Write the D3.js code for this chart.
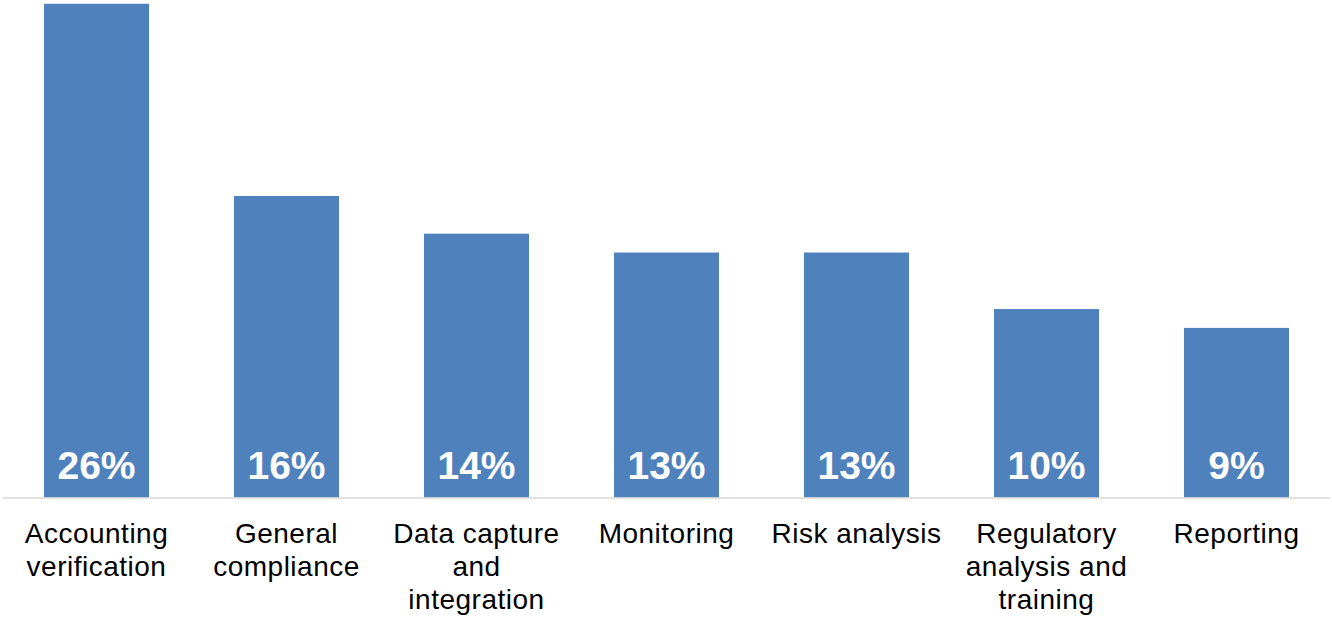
<!DOCTYPE html>
<html><head><meta charset="utf-8">
<script src="https://cdn.jsdelivr.net/npm/d3@7"></script>
<style>html,body{margin:0;padding:0;background:#fff;} svg{display:block;}</style>
</head><body>
<svg id="chart" width="1332" height="623"></svg>
<script>
const categories = [
  ["Accounting","verification"],
  ["General","compliance"],
  ["Data capture","and","integration"],
  ["Monitoring"],
  ["Risk analysis"],
  ["Regulatory","analysis and","training"],
  ["Reporting"]
];
const values = [26.2, 16, 14, 13, 13, 10, 9];
const valueLabels = ["26%","16%","14%","13%","13%","10%","9%"];

const svg = d3.select("#chart");
const baseline = 497.5;
const x = d3.scaleBand().domain(d3.range(values.length)).range([1.5, 1331.5]).paddingInner(0.447).paddingOuter(0.2235);
const y = d3.scaleLinear().domain([0, 26.4]).range([baseline, 0]);

svg.selectAll("rect.bar").data(values).enter().append("rect")
  .attr("class","bar")
  .attr("x",(d,i)=>x(i)).attr("width",x.bandwidth())
  .attr("y",d=>y(d)).attr("height",d=>baseline-y(d))
  .attr("fill","#4f81bd");

svg.append("line").attr("x1",3).attr("x2",1330).attr("y1",baseline+0.5).attr("y2",baseline+0.5)
  .attr("stroke","#d9d9d9").attr("stroke-width",1.5);

svg.selectAll("text.val").data(valueLabels).enter().append("text")
  .attr("class","val")
  .attr("x",(d,i)=>x(i)+x.bandwidth()/2).attr("y",479)
  .attr("text-anchor","middle")
  .attr("font-family","'Liberation Sans', Arial, sans-serif")
  .attr("font-weight","bold").attr("font-size",39)
  .attr("fill","#ffffff").text(d=>d);

const cat = svg.selectAll("text.cat").data(categories).enter().append("text")
  .attr("class","cat")
  .attr("x",(d,i)=>x(i)+x.bandwidth()/2).attr("y",543)
  .attr("text-anchor","middle")
  .attr("font-family","'Liberation Sans', Arial, sans-serif")
  .attr("font-size",28).attr("letter-spacing","0.5")
  .attr("fill","#000");
cat.each(function(d,i){
  const t = d3.select(this);
  d.forEach((line,j)=>{
    t.append("tspan").attr("x",x(i)+x.bandwidth()/2).attr("y",543+j*33).text(line);
  });
});
</script>
</body></html>
